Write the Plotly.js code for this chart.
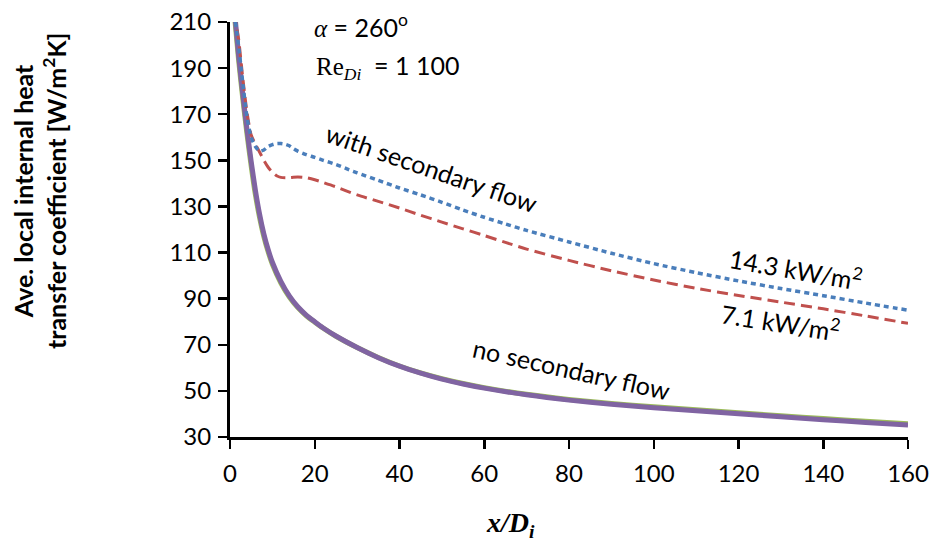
<!DOCTYPE html>
<html>
<head>
<meta charset="utf-8">
<script src="https://cdn.plot.ly/plotly-3.0.1.min.js"></script>
<style>html,body{margin:0;padding:0;background:#fff;} #chart{width:935px;height:542px;}</style>
</head>
<body>
<div id="chart"></div>
<script>
// 14.3 kW/m2, with secondary flow (blue dotted)
const xHigh = [1,2,3,4,5,6,7,8,9,10,11,12,13,14,15,16,18,20,22,25,28,30,35,40,45,50,55,60,65,70,80,90,100,110,120,130,140,150,160];
const yHigh = [214,200,184,169,160,156,154,154.5,156,156.8,157.3,157.3,157,156.3,155,154,152.5,151.3,150,148.2,146,144.6,141.3,138,135,131.8,128.4,125.3,122.4,119.6,114.6,109.7,105.2,101.3,97.7,94.4,91.3,88.1,85];
// 7.1 kW/m2, with secondary flow (red dashed)
const xLow = [1,2,3,4,5,6,7,8,9,10,11,12,14,16,18,20,22,25,30,35,40,45,50,55,60,65,70,80,90,100,110,120,130,140,150,160];
const yLow = [214,203,186,171,161,157,153.5,150,147,144.8,143.3,142.6,142.5,142.8,142.5,141.6,140.4,138.5,135,132.2,129.3,126.2,123.2,120.3,117.4,114.4,111.5,106.6,102.1,98.1,94.5,91.4,88.5,85.6,82.5,79.3];
// no secondary flow (two nearly identical curves)
const xNo = [1,2,3,4,5,6,7,8,9,10,12,14,16,18,20,22,25,30,35,40,45,50,55,60,70,80,90,100,110,120,130,140,150,160];
const yNoGreen = [214,194,177,161.5,147.5,135,125,116.8,110.3,104.9,96.8,90.7,86.1,82.6,79.8,77.2,73.7,68.8,64.5,60.8,57.8,55.3,53.2,51.4,48.5,46.3,44.5,43.1,41.8,40.5,39.2,38,36.8,35.7];
const yNoPurple = [216,196,179,163.5,149.5,137,126.5,118,111.3,105.8,97.5,91.2,86.5,82.9,80,77.3,73.8,68.8,64.4,60.7,57.7,55.1,53,51.2,48.3,46,44.2,42.7,41.4,40.1,38.8,37.5,36.3,35.2];

const xTicks = [0,20,40,60,80,100,120,140,160];
const yTicks = [30,50,70,90,110,130,150,170,190,210];

const SANS = 'Lato, "Open Sans", sans-serif';
const SERIF = '"Liberation Serif", "Times New Roman", serif';

const traces = [
  {x: xNo, y: yNoGreen, mode: 'lines', line: {color: '#9BBB59', width: 5, shape: 'spline', smoothing: 0.7}, hoverinfo: 'skip'},
  {x: xNo, y: yNoPurple, mode: 'lines', line: {color: '#8064A2', width: 5, shape: 'spline', smoothing: 0.7}, hoverinfo: 'skip'},
  {x: xLow, y: yLow, mode: 'lines', line: {color: '#C0504D', width: 3, dash: '11px,6px', shape: 'spline', smoothing: 0.7}, hoverinfo: 'skip'},
  {x: xHigh, y: yHigh, mode: 'lines', line: {color: '#4A7EBB', width: 3.5, dash: '5px,4px', shape: 'spline', smoothing: 0.7}, hoverinfo: 'skip'}
];

const serifSpan = (s, italic) => '<span style="font-family:\'Liberation Serif\'' + (italic ? ';font-style:italic' : '') + '">' + s + '</span>';

const layout = {
  width: 935, height: 542,
  margin: {l: 230, r: 27, t: 22, b: 105},
  paper_bgcolor: '#fff', plot_bgcolor: '#fff',
  showlegend: false,
  font: {family: SANS, color: '#000', size: 24},
  xaxis: {
    range: [0, 160], tickvals: xTicks, ticktext: xTicks.map(String),
    showgrid: false, zeroline: false, showline: true, linecolor: '#000', linewidth: 3,
    ticks: 'outside', ticklen: 9, tickwidth: 2.5, tickcolor: '#000', ticklabelstandoff: 4,
    tickfont: {family: SANS, size: 24, color: '#000'}
  },
  yaxis: {
    range: [30, 210], tickvals: yTicks, ticktext: yTicks.map(String),
    showgrid: false, zeroline: false, showline: true, linecolor: '#000', linewidth: 3,
    ticks: 'outside', ticklen: 9, tickwidth: 2.5, tickcolor: '#000', ticklabelstandoff: 2,
    tickfont: {family: SANS, size: 24, color: '#000'}
  },
  annotations: [
    {xref: 'paper', yref: 'paper', x: -0.280, y: 0.593, xanchor: 'center', yanchor: 'middle', textangle: -90, showarrow: false,
     text: '<b>Ave. local internal heat<br>transfer coefficient [W/m<sup>2</sup>K]</b>', font: {family: SANS, size: 25, color: '#000'}},
    {xref: 'paper', yref: 'paper', x: 0.413, y: -0.21, xanchor: 'center', yanchor: 'middle', showarrow: false,
     text: '<b><i>x/D<sub>i</sub></i></b>', font: {family: SERIF, size: 28, color: '#000'}},
    {xref: 'x', yref: 'y', x: 19.4, y: 208.3, xanchor: 'left', yanchor: 'middle', showarrow: false,
     text: serifSpan('α', true) + ' = 260<sup>o</sup>', font: {family: SANS, size: 25, color: '#000'}},
    {xref: 'x', yref: 'y', x: 19.9, y: 190.5, xanchor: 'left', yanchor: 'middle', showarrow: false,
     text: serifSpan('Re<sub><i>Di</i></sub>', false) + '\u00A0 = 1 100', font: {family: SANS, size: 25, color: '#000'}},
    {xref: 'x', yref: 'y', x: 47.7, y: 146.7, xanchor: 'center', yanchor: 'middle', textangle: 19, showarrow: false,
     text: 'with secondary flow', font: {family: SANS, size: 25, color: '#000'}},
    {xref: 'x', yref: 'y', x: 133.6, y: 103.3, xanchor: 'center', yanchor: 'middle', textangle: 10, showarrow: false,
     text: '14.3 kW/m<sup>2</sup>', font: {family: SANS, size: 25, color: '#000'}},
    {xref: 'x', yref: 'y', x: 130.0, y: 80.3, xanchor: 'center', yanchor: 'middle', textangle: 9, showarrow: false,
     text: '7.1 kW/m<sup>2</sup>', font: {family: SANS, size: 25, color: '#000'}},
    {xref: 'x', yref: 'y', x: 80.7, y: 59.5, xanchor: 'center', yanchor: 'middle', textangle: 12.5, showarrow: false,
     text: 'no secondary flow', font: {family: SANS, size: 25, color: '#000'}}
  ]
};

Plotly.newPlot('chart', traces, layout, {staticPlot: true, displayModeBar: false});
</script>
</body>
</html>
